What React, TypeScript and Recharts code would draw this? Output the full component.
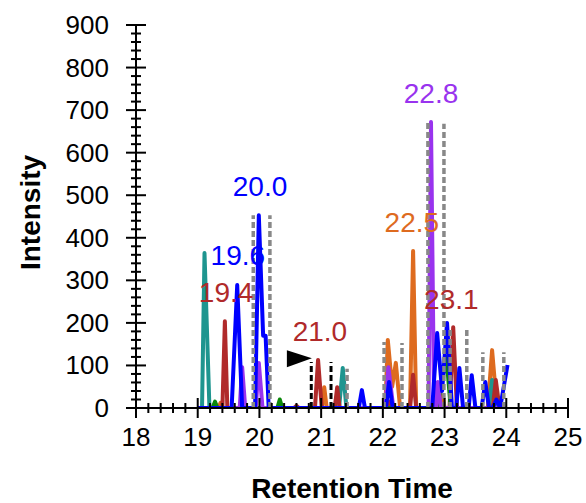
import React from 'react';
import {
  ComposedChart,
  Line,
  Scatter,
  XAxis,
  YAxis,
  ReferenceLine,
} from 'recharts';

// retention time (min) / intensity pairs
const teal = [
  { t: 19.0, v: 0 }, { t: 19.07, v: 0 }, { t: 19.11, v: 364 }, { t: 19.19, v: 0 },
  { t: 21.29, v: 0 }, { t: 21.35, v: 94 }, { t: 21.41, v: 0 },
  { t: 23.72, v: 0 }, { t: 23.77, v: 66 }, { t: 23.82, v: 0 }, { t: 24.0, v: 0 },
];

const orange = [
  { t: 19.0, v: 0 }, { t: 19.33, v: 0 }, { t: 19.37, v: 12 }, { t: 19.41, v: 0 },
  { t: 21.01, v: 0 }, { t: 21.05, v: 49 }, { t: 21.09, v: 0 },
  { t: 22.04, v: 0 }, { t: 22.08, v: 160 }, { t: 22.15, v: 50 }, { t: 22.21, v: 106 }, { t: 22.28, v: 0 },
  { t: 22.44, v: 0 }, { t: 22.49, v: 369 }, { t: 22.54, v: 0 },
  { t: 22.93, v: 0 }, { t: 22.97, v: 30 }, { t: 23.0, v: 0 },
  { t: 23.7, v: 0 }, { t: 23.77, v: 136 }, { t: 23.85, v: 0 }, { t: 24.0, v: 0 },
];

const brown = [
  { t: 19.0, v: 0 }, { t: 19.4, v: 0 }, { t: 19.44, v: 204 }, { t: 19.48, v: 0 },
  { t: 20.56, v: 0 }, { t: 20.6, v: 5 }, { t: 20.64, v: 0 },
  { t: 20.9, v: 0 }, { t: 20.95, v: 113 }, { t: 21.01, v: 0 },
  { t: 21.22, v: 0 }, { t: 21.26, v: 49 }, { t: 21.3, v: 0 },
  { t: 22.07, v: 0 }, { t: 22.11, v: 15 }, { t: 22.15, v: 0 },
  { t: 22.44, v: 0 }, { t: 22.49, v: 78 }, { t: 22.54, v: 0 },
  { t: 23.08, v: 0 }, { t: 23.14, v: 190 }, { t: 23.2, v: 0 },
  { t: 23.78, v: 0 }, { t: 23.83, v: 66 }, { t: 23.89, v: 0 }, { t: 24.0, v: 0 },
];

const green = [
  { t: 19.0, v: 0 }, { t: 19.24, v: 0 }, { t: 19.28, v: 15 }, { t: 19.32, v: 0 },
  { t: 20.29, v: 0 }, { t: 20.33, v: 20 }, { t: 20.37, v: 0 },
  { t: 22.88, v: 0 }, { t: 22.93, v: 40 }, { t: 23.03, v: 120 }, { t: 23.1, v: 0 }, { t: 24.0, v: 0 },
];

const purple = [
  { t: 19.0, v: 0 }, { t: 19.68, v: 0 }, { t: 19.72, v: 96 }, { t: 19.77, v: 0 },
  { t: 19.94, v: 0 }, { t: 19.99, v: 106 }, { t: 20.05, v: 0 },
  { t: 22.04, v: 0 }, { t: 22.09, v: 96 }, { t: 22.17, v: 0 },
  { t: 22.74, v: 0 }, { t: 22.78, v: 672 }, { t: 22.83, v: 0 },
  { t: 22.86, v: 0 }, { t: 22.89, v: 61 }, { t: 22.94, v: 0 }, { t: 24.0, v: 0 },
];

const blue = [
  { t: 19.0, v: 0 }, { t: 19.55, v: 0 }, { t: 19.64, v: 289 }, { t: 19.72, v: 0 },
  { t: 19.93, v: 0 }, { t: 19.99, v: 453 }, { t: 20.06, v: 170 }, { t: 20.1, v: 170 }, { t: 20.15, v: 0 },
  { t: 21.61, v: 0 }, { t: 21.66, v: 42 }, { t: 21.71, v: 0 },
  { t: 22.05, v: 0 }, { t: 22.1, v: 61 }, { t: 22.16, v: 0 },
  { t: 22.8, v: 0 }, { t: 22.88, v: 176 }, { t: 22.96, v: 40 }, { t: 23.04, v: 200 }, { t: 23.12, v: 0 },
  { t: 23.19, v: 0 }, { t: 23.24, v: 94 }, { t: 23.3, v: 0 },
  { t: 23.39, v: 0 }, { t: 23.44, v: 77 }, { t: 23.5, v: 0 },
  { t: 23.6, v: 0 }, { t: 23.66, v: 61 }, { t: 23.72, v: 0 },
  { t: 23.78, v: 0 }, { t: 23.84, v: 20 }, { t: 23.9, v: 0 }, { t: 24.02, v: 101 },
];

// integration boundaries (grey) and the selected peak (black)
const boundaryTimes = [19.9, 20.17, 21.42, 22.02, 22.31, 22.73, 22.99, 23.09, 23.36, 23.62, 23.96];
const boundaryHeights = [453, 453, 92, 155, 153, 670, 668, 186, 188, 131, 131];
const selectedTimes = [20.84, 21.16];
const selectedHeights = [108, 108];
const flag = [{ t: 20.85, v: 117 }];

const peakLabels = [
  { t: 19.46, v: 273, text: '19.4', color: '#b02a2a' },
  { t: 19.65, v: 360, text: '19.6', color: '#0000ff' },
  { t: 20.01, v: 522, text: '20.0', color: '#0000ff' },
  { t: 20.98, v: 181, text: '21.0', color: '#b02a2a' },
  { t: 22.47, v: 437, text: '22.5', color: '#de6b1f' },
  { t: 22.78, v: 740, text: '22.8', color: '#9933ee' },
  { t: 23.11, v: 256, text: '23.1', color: '#b02a2a' },
];

const xMajor = [18, 19, 20, 21, 22, 23, 24, 25];
const yMajor = [0, 100, 200, 300, 400, 500, 600, 700, 800, 900];

const xTicks: number[] = [];
xMajor.forEach((m, i) => {
  xTicks.push(m);
  if (i < xMajor.length - 1) [0.2, 0.4, 0.6, 0.8].forEach(f => xTicks.push(+(m + f).toFixed(1)));
});
const yTicks: number[] = [];
yMajor.forEach((m, i) => {
  yTicks.push(m);
  if (i < yMajor.length - 1) [20, 40, 60, 80].forEach(f => yTicks.push(m + f));
});

const FONT = '"Liberation Sans", Arial, sans-serif';

const XTick = ({ x, y, payload }: any) => {
  const major = Math.abs(payload.value - Math.round(payload.value)) < 1e-6;
  const h = major ? 10 : 5;
  return (
    <g>
      <line x1={x} x2={x} y1={y - h} y2={y + h} stroke="#000" strokeWidth={2} />
      {major && (
        <text x={x} y={y + 38} textAnchor="middle" fontSize={26} fontFamily={FONT} fill="#000">
          {payload.value}
        </text>
      )}
    </g>
  );
};

const YTick = ({ x, y, payload }: any) => {
  const major = payload.value % 100 === 0;
  const w = major ? 10 : 5;
  return (
    <g>
      <line x1={x - w} x2={x + w} y1={y} y2={y} stroke="#000" strokeWidth={2} />
      {major && (
        <text x={x - 27} y={y + 9} textAnchor="end" fontSize={26} fontFamily={FONT} fill="#000">
          {payload.value}
        </text>
      )}
    </g>
  );
};

const series = [
  { data: orange, color: '#de6b1f' },
  { data: teal, color: '#1e958f' },
  { data: brown, color: '#b02a2a' },
  { data: green, color: '#0a870a' },
  { data: purple, color: '#9933ee' },
  { data: blue, color: '#0000ff' },
];

export default function App() {
  return (
    <div style={{ position: 'absolute', left: 0, top: 0, background: '#fff' }}>
      <ComposedChart width={586} height={503} margin={{ top: 25, right: 18, left: 0, bottom: 0 }}>
        <XAxis
          type="number"
          dataKey="t"
          domain={[18, 25]}
          ticks={xTicks}
          interval={0}
          tick={<XTick />}
          tickLine={false}
          tickSize={0}
          tickMargin={0}
          axisLine={{ stroke: '#000', strokeWidth: 2 }}
          height={95}
          allowDataOverflow
          label={(props: any) => {
            const vb = props.viewBox;
            return (
              <text x={vb.x + vb.width / 2} y={vb.y + 90} textAnchor="middle" fontSize={28}
                fontWeight="bold" fontFamily={FONT} fill="#000">
                Retention Time
              </text>
            );
          }}
        />
        <YAxis
          type="number"
          dataKey="v"
          domain={[0, 900]}
          ticks={yTicks}
          interval={0}
          tick={<YTick />}
          tickLine={false}
          tickSize={0}
          tickMargin={0}
          axisLine={{ stroke: '#000', strokeWidth: 2 }}
          width={136}
          allowDataOverflow
          label={(props: any) => {
            const vb = props.viewBox;
            const cx = 40;
            const cy = vb.y + vb.height / 2 - 4;
            return (
              <text x={cx} y={cy} transform={`rotate(-90 ${cx} ${cy})`} textAnchor="middle"
                fontSize={28} fontWeight="bold" fontFamily={FONT} fill="#000">
                Intensity
              </text>
            );
          }}
        />
        <Scatter
          data={peakLabels}
          dataKey="v"
          isAnimationActive={false}
          shape={(p: any) => (
            <text x={p.cx} y={p.cy + 10} textAnchor="middle" fontSize={28} fontFamily={FONT}
              fill={p.payload.color}>
              {p.payload.text}
            </text>
          )}
        />
        {series.map((s, i) => (
          <Line
            key={i}
            data={s.data}
            dataKey="v"
            type="linear"
            stroke={s.color}
            strokeWidth={4}
            strokeLinejoin="round"
            dot={false}
            activeDot={false}
            isAnimationActive={false}
          />
        ))}
        {boundaryTimes.map((t, i) => (
          <ReferenceLine
            key={'b' + i}
            segment={[{ x: t, y: 0 }, { x: t, y: boundaryHeights[i] }]}
            stroke="#888"
            strokeWidth={3.5}
            strokeDasharray="6 3"
          />
        ))}
        {selectedTimes.map((t, i) => (
          <ReferenceLine
            key={'s' + i}
            segment={[{ x: t, y: 0 }, { x: t, y: selectedHeights[i] }]}
            stroke="#000"
            strokeWidth={3}
            strokeDasharray="6 3"
          />
        ))}
        <Scatter
          data={flag}
          dataKey="v"
          isAnimationActive={false}
          shape={(p: any) => (
            <polygon
              points={`${p.cx},${p.cy} ${p.cx - 25},${p.cy - 8} ${p.cx - 25},${p.cy + 9}`}
              fill="#000"
            />
          )}
        />
      </ComposedChart>
    </div>
  );
}
